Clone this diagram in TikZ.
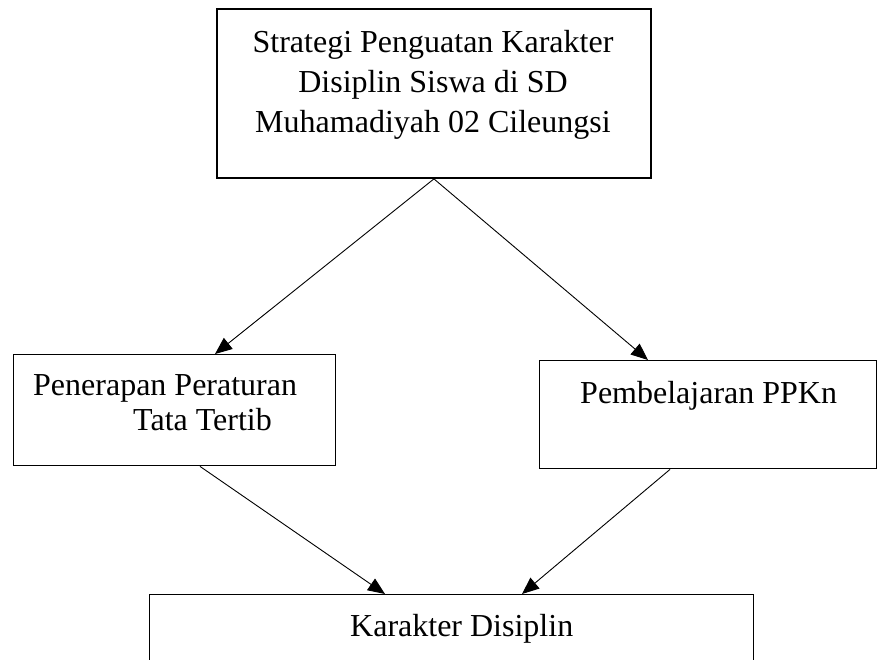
\documentclass[tikz,border=0pt]{standalone}
\usepackage{fontspec}
\setmainfont{Liberation Serif}
\usetikzlibrary{arrows.meta}
\begin{document}
\begin{tikzpicture}[x=1pt,y=-1pt,
  box/.style={draw,line width=1.4pt,rectangle,inner sep=0pt,anchor=north west},
  txt/.style={inner sep=0pt,font=\fontsize{32}{39}\selectfont},
  arr/.style={line width=0.9pt,-{Triangle[length=17pt,width=14pt]}}]
\useasboundingbox (0,0) rectangle (877,659);
\clip (0,0) rectangle (877,659);
\fill[white] (0,0) rectangle (877,659);
% boxes
\node[box,line width=1.9pt,minimum width=434pt,minimum height=169pt] (top) at (216,8) {};
\node[box,minimum width=322pt,minimum height=111pt] (left) at (13,354) {};
\node[box,minimum width=337pt,minimum height=108pt] (right) at (539,360) {};
\node[box,minimum width=604pt,minimum height=200pt] (bot) at (149,594) {};
% texts
\node[txt,anchor=base] (t1) at (433,52) {Strategi Penguatan Karakter};
\node[txt,anchor=base] (t2) at (433,92) {Disiplin Siswa di SD};
\node[txt,anchor=base] (t3) at (433,132) {Muhamadiyah 02 Cileungsi};
\node[txt,anchor=base west] (l1) at (33,395) {Penerapan Peraturan};
\node[txt,anchor=base west] (l2) at (133,430) {Tata Tertib};
\node[txt,anchor=base west] (r1) at (580,403) {Pembelajaran PPKn};
\node[txt,anchor=base west] (b1) at (350,636) {Karakter Disiplin};
% connectors
\draw[arr] (top.south) -- ([xshift=202pt]left.north west);
\draw[arr] (top.south) -- ([xshift=109pt]right.north west);
\draw[arr] ([xshift=187pt]left.south west) -- ([xshift=236pt]bot.north west);
\draw[arr] ([xshift=131pt]right.south west) -- ([xshift=373pt]bot.north west);
\end{tikzpicture}
\end{document}
